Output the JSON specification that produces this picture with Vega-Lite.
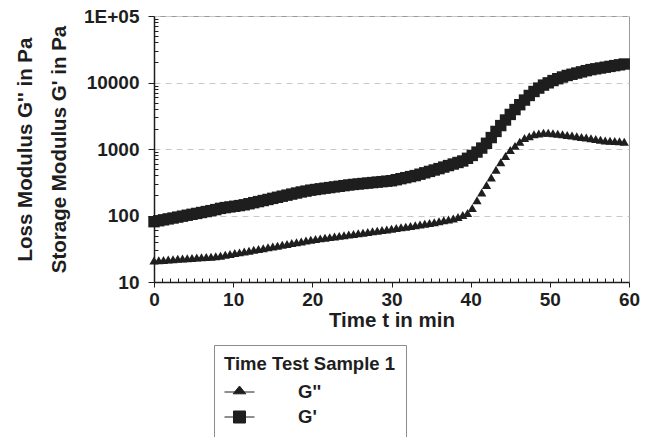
{
  "$schema": "https://vega.github.io/schema/vega-lite/v6.json",
  "width": 475,
  "height": 266,
  "autosize": {"type": "none"},
  "padding": {"left": 154, "top": 16, "right": 33, "bottom": 155},
  "background": "white",
  "config": {
    "font": "Liberation Sans",
    "view": {"stroke": "#9a9a9a", "strokeWidth": 1},
    "legend": {
      "orient": "none", "legendX": 60, "legendY": 329,
      "titleFont": "Liberation Sans", "titleFontSize": 18.5, "titleFontWeight": "bold", "titleColor": "#1e1e1e",
      "titlePadding": 3,
      "labelFont": "Liberation Sans", "labelFontSize": 18.5, "labelFontWeight": "bold", "labelColor": "#1e1e1e",
      "labelOffset": 43,
      "strokeColor": "#8c8c8c", "fillColor": "white", "padding": 10,
      "symbolSize": 900, "rowPadding": -3,
      "symbolStrokeColor": "#1e1e1e", "symbolStrokeWidth": 1
    }
  },
  "data": {
    "values": [
      {"t": 0, "s": "G''", "v": 21.0}, {"t": 0.6, "s": "G''", "v": 21.3}, {"t": 1.2, "s": "G''", "v": 21.5}, {"t": 1.8, "s": "G''", "v": 21.8},
      {"t": 2.4, "s": "G''", "v": 22.0}, {"t": 3.0, "s": "G''", "v": 22.3}, {"t": 3.6, "s": "G''", "v": 22.5}, {"t": 4.2, "s": "G''", "v": 22.8},
      {"t": 4.8, "s": "G''", "v": 23.0}, {"t": 5.4, "s": "G''", "v": 23.3}, {"t": 6.0, "s": "G''", "v": 23.5}, {"t": 6.6, "s": "G''", "v": 23.8},
      {"t": 7.2, "s": "G''", "v": 24.0}, {"t": 7.8, "s": "G''", "v": 24.3}, {"t": 8.4, "s": "G''", "v": 24.9}, {"t": 9.0, "s": "G''", "v": 25.7},
      {"t": 9.6, "s": "G''", "v": 26.4}, {"t": 10.2, "s": "G''", "v": 27.2}, {"t": 10.8, "s": "G''", "v": 27.9}, {"t": 11.4, "s": "G''", "v": 28.7},
      {"t": 12.0, "s": "G''", "v": 29.6}, {"t": 12.6, "s": "G''", "v": 30.5}, {"t": 13.2, "s": "G''", "v": 31.3}, {"t": 13.8, "s": "G''", "v": 32.3},
      {"t": 14.4, "s": "G''", "v": 33.3}, {"t": 15.0, "s": "G''", "v": 34.2}, {"t": 15.6, "s": "G''", "v": 35.2}, {"t": 16.2, "s": "G''", "v": 36.3},
      {"t": 16.8, "s": "G''", "v": 37.3}, {"t": 17.4, "s": "G''", "v": 38.5}, {"t": 18.0, "s": "G''", "v": 39.6}, {"t": 18.6, "s": "G''", "v": 40.7},
      {"t": 19.2, "s": "G''", "v": 42.0}, {"t": 19.8, "s": "G''", "v": 43.2}, {"t": 20.4, "s": "G''", "v": 44.3}, {"t": 21.0, "s": "G''", "v": 45.3},
      {"t": 21.6, "s": "G''", "v": 46.3}, {"t": 22.2, "s": "G''", "v": 47.3}, {"t": 22.8, "s": "G''", "v": 48.4}, {"t": 23.4, "s": "G''", "v": 49.4},
      {"t": 24.0, "s": "G''", "v": 50.6}, {"t": 24.6, "s": "G''", "v": 51.7}, {"t": 25.2, "s": "G''", "v": 52.8}, {"t": 25.8, "s": "G''", "v": 54.1},
      {"t": 26.4, "s": "G''", "v": 55.2}, {"t": 27.0, "s": "G''", "v": 56.5}, {"t": 27.6, "s": "G''", "v": 57.8}, {"t": 28.2, "s": "G''", "v": 59.0},
      {"t": 28.8, "s": "G''", "v": 60.4}, {"t": 29.4, "s": "G''", "v": 61.7}, {"t": 30.0, "s": "G''", "v": 63.1}, {"t": 30.6, "s": "G''", "v": 64.7},
      {"t": 31.2, "s": "G''", "v": 66.4}, {"t": 31.8, "s": "G''", "v": 67.9}, {"t": 32.4, "s": "G''", "v": 69.7}, {"t": 33.0, "s": "G''", "v": 71.4},
      {"t": 33.6, "s": "G''", "v": 73.3}, {"t": 34.2, "s": "G''", "v": 75.2}, {"t": 34.8, "s": "G''", "v": 76.9}, {"t": 35.4, "s": "G''", "v": 79.3},
      {"t": 36.0, "s": "G''", "v": 81.8}, {"t": 36.6, "s": "G''", "v": 84.5}, {"t": 37.2, "s": "G''", "v": 87.3}, {"t": 37.8, "s": "G''", "v": 90.2},
      {"t": 38.4, "s": "G''", "v": 95.3}, {"t": 39.0, "s": "G''", "v": 101.6}, {"t": 39.6, "s": "G''", "v": 108.9}, {"t": 40.2, "s": "G''", "v": 130},
      {"t": 40.8, "s": "G''", "v": 170}, {"t": 41.4, "s": "G''", "v": 222}, {"t": 42.0, "s": "G''", "v": 288}, {"t": 42.6, "s": "G''", "v": 374},
      {"t": 43.2, "s": "G''", "v": 489}, {"t": 43.8, "s": "G''", "v": 631}, {"t": 44.4, "s": "G''", "v": 782}, {"t": 45.0, "s": "G''", "v": 966},
      {"t": 45.6, "s": "G''", "v": 1114}, {"t": 46.2, "s": "G''", "v": 1282}, {"t": 46.8, "s": "G''", "v": 1462}, {"t": 47.4, "s": "G''", "v": 1560},
      {"t": 48.0, "s": "G''", "v": 1667}, {"t": 48.6, "s": "G''", "v": 1714}, {"t": 49.2, "s": "G''", "v": 1758}, {"t": 49.8, "s": "G''", "v": 1754},
      {"t": 50.4, "s": "G''", "v": 1726}, {"t": 51.0, "s": "G''", "v": 1694}, {"t": 51.6, "s": "G''", "v": 1663}, {"t": 52.2, "s": "G''", "v": 1629},
      {"t": 52.8, "s": "G''", "v": 1592}, {"t": 53.4, "s": "G''", "v": 1556}, {"t": 54.0, "s": "G''", "v": 1521}, {"t": 54.6, "s": "G''", "v": 1486},
      {"t": 55.2, "s": "G''", "v": 1449}, {"t": 55.8, "s": "G''", "v": 1413}, {"t": 56.4, "s": "G''", "v": 1377}, {"t": 57.0, "s": "G''", "v": 1343},
      {"t": 57.6, "s": "G''", "v": 1330}, {"t": 58.2, "s": "G''", "v": 1315}, {"t": 58.8, "s": "G''", "v": 1303}, {"t": 59.4, "s": "G''", "v": 1288},

      {"t": 0, "s": "G'", "v": 80.7}, {"t": 0.6, "s": "G'", "v": 83.4}, {"t": 1.2, "s": "G'", "v": 86.1}, {"t": 1.8, "s": "G'", "v": 88.9},
      {"t": 2.4, "s": "G'", "v": 91.6}, {"t": 3.0, "s": "G'", "v": 94.6}, {"t": 3.6, "s": "G'", "v": 97.7}, {"t": 4.2, "s": "G'", "v": 100.9},
      {"t": 4.8, "s": "G'", "v": 104.2}, {"t": 5.4, "s": "G'", "v": 107.4}, {"t": 6.0, "s": "G'", "v": 110.9}, {"t": 6.6, "s": "G'", "v": 114.6},
      {"t": 7.2, "s": "G'", "v": 118.3}, {"t": 7.8, "s": "G'", "v": 122.7}, {"t": 8.4, "s": "G'", "v": 127.9}, {"t": 9.0, "s": "G'", "v": 131.5},
      {"t": 9.6, "s": "G'", "v": 134.6}, {"t": 10.2, "s": "G'", "v": 137.7}, {"t": 10.8, "s": "G'", "v": 140.9}, {"t": 11.4, "s": "G'", "v": 144.9},
      {"t": 12.0, "s": "G'", "v": 150.3}, {"t": 12.6, "s": "G'", "v": 156.0}, {"t": 13.2, "s": "G'", "v": 161.8}, {"t": 13.8, "s": "G'", "v": 167.9},
      {"t": 14.4, "s": "G'", "v": 174.2}, {"t": 15.0, "s": "G'", "v": 181.1}, {"t": 15.6, "s": "G'", "v": 187.9}, {"t": 16.2, "s": "G'", "v": 195.0},
      {"t": 16.8, "s": "G'", "v": 202.3}, {"t": 17.4, "s": "G'", "v": 209.9}, {"t": 18.0, "s": "G'", "v": 217.8}, {"t": 18.6, "s": "G'", "v": 225.9},
      {"t": 19.2, "s": "G'", "v": 232.8}, {"t": 19.8, "s": "G'", "v": 240.4}, {"t": 20.4, "s": "G'", "v": 246.0}, {"t": 21.0, "s": "G'", "v": 251.8},
      {"t": 21.6, "s": "G'", "v": 257.6}, {"t": 22.2, "s": "G'", "v": 263.0}, {"t": 22.8, "s": "G'", "v": 269.2}, {"t": 23.4, "s": "G'", "v": 274.8},
      {"t": 24.0, "s": "G'", "v": 281.2}, {"t": 24.6, "s": "G'", "v": 287.7}, {"t": 25.2, "s": "G'", "v": 293.1}, {"t": 25.8, "s": "G'", "v": 297.8},
      {"t": 26.4, "s": "G'", "v": 302.7}, {"t": 27.0, "s": "G'", "v": 307.6}, {"t": 27.6, "s": "G'", "v": 312.6}, {"t": 28.2, "s": "G'", "v": 317.7},
      {"t": 28.8, "s": "G'", "v": 322.8}, {"t": 29.4, "s": "G'", "v": 328.1}, {"t": 30.0, "s": "G'", "v": 333.4}, {"t": 30.6, "s": "G'", "v": 345.1},
      {"t": 31.2, "s": "G'", "v": 358.1}, {"t": 31.8, "s": "G'", "v": 370.7}, {"t": 32.4, "s": "G'", "v": 384.6}, {"t": 33.0, "s": "G'", "v": 398.1},
      {"t": 33.6, "s": "G'", "v": 417.8}, {"t": 34.2, "s": "G'", "v": 438.5}, {"t": 34.8, "s": "G'", "v": 460.3}, {"t": 35.4, "s": "G'", "v": 483.1},
      {"t": 36.0, "s": "G'", "v": 507.0}, {"t": 36.6, "s": "G'", "v": 534.6}, {"t": 37.2, "s": "G'", "v": 563.6}, {"t": 37.8, "s": "G'", "v": 594.3},
      {"t": 38.4, "s": "G'", "v": 626.6}, {"t": 39.0, "s": "G'", "v": 660.7}, {"t": 39.6, "s": "G'", "v": 724.4}, {"t": 40.2, "s": "G'", "v": 799.8},
      {"t": 40.8, "s": "G'", "v": 899.5}, {"t": 41.4, "s": "G'", "v": 1033}, {"t": 42.0, "s": "G'", "v": 1219}, {"t": 42.6, "s": "G'", "v": 1486},
      {"t": 43.2, "s": "G'", "v": 1837}, {"t": 43.8, "s": "G'", "v": 2249}, {"t": 44.4, "s": "G'", "v": 2729}, {"t": 45.0, "s": "G'", "v": 3311},
      {"t": 45.6, "s": "G'", "v": 3917}, {"t": 46.2, "s": "G'", "v": 4634}, {"t": 46.8, "s": "G'", "v": 5445}, {"t": 47.4, "s": "G'", "v": 6383},
      {"t": 48.0, "s": "G'", "v": 7328}, {"t": 48.6, "s": "G'", "v": 8241}, {"t": 49.2, "s": "G'", "v": 9141}, {"t": 49.8, "s": "G'", "v": 9886},
      {"t": 50.4, "s": "G'", "v": 10690}, {"t": 51.0, "s": "G'", "v": 11400}, {"t": 51.6, "s": "G'", "v": 12100}, {"t": 52.2, "s": "G'", "v": 12760},
      {"t": 52.8, "s": "G'", "v": 13300}, {"t": 53.4, "s": "G'", "v": 13870}, {"t": 54.0, "s": "G'", "v": 14450}, {"t": 54.6, "s": "G'", "v": 15070},
      {"t": 55.2, "s": "G'", "v": 15630}, {"t": 55.8, "s": "G'", "v": 16070}, {"t": 56.4, "s": "G'", "v": 16520}, {"t": 57.0, "s": "G'", "v": 16980},
      {"t": 57.6, "s": "G'", "v": 17460}, {"t": 58.2, "s": "G'", "v": 17950}, {"t": 58.8, "s": "G'", "v": 18450}, {"t": 59.4, "s": "G'", "v": 18970}
    ]
  },
  "layer": [
    {
      "mark": {"type": "point", "filled": true, "opacity": 1},
      "encoding": {
        "x": {
          "field": "t", "type": "quantitative",
          "scale": {"domain": [0, 60], "nice": false, "zero": false},
          "axis": {
            "values": [0, 10, 20, 30, 40, 50, 60],
            "title": "Time t in min",
            "titleFont": "Liberation Sans", "titleFontSize": 20.5, "titleFontWeight": "bold", "titleColor": "#1e1e1e",
            "titlePadding": 1,
            "labelFont": "Liberation Sans", "labelFontSize": 19, "labelFontWeight": "bold", "labelColor": "#1e1e1e",
            "labelPadding": 3, "labelFlush": false, "labelOverlap": false,
            "tickSize": 5, "tickColor": "#1e1e1e", "domainColor": "#1e1e1e", "domainWidth": 1.5,
            "grid": false
          }
        },
        "y": {
          "field": "v", "type": "quantitative",
          "scale": {"type": "log", "domain": [10, 100000], "nice": false},
          "axis": {
            "values": [10, 100, 1000, 10000, 100000],
            "labelExpr": "datum.value >= 100000 ? '1E+05' : format(datum.value, 'd')",
            "title": ["Loss Modulus G'' in Pa", "Storage Modulus G' in Pa"],
            "titleFont": "Liberation Sans", "titleFontSize": 20.5, "titleFontWeight": "bold", "titleColor": "#1e1e1e",
            "titleLineHeight": 34, "titleAngle": 270, "titleAlign": "center", "titleBaseline": "top",
            "titleX": -139, "titleY": 133,
            "labelFont": "Liberation Sans", "labelFontSize": 19, "labelFontWeight": "bold", "labelColor": "#1e1e1e",
            "labelPadding": 9,
            "tickSize": 6, "tickColor": "#1e1e1e", "domainColor": "#1e1e1e", "domainWidth": 1.5,
            "grid": true, "gridColor": "#c8c8c8", "gridDash": [6, 5], "gridWidth": 1
          }
        },
        "color": {
          "field": "s", "type": "nominal",
          "scale": {"domain": ["G''", "G'"], "range": ["#1e1e1e", "#1e1e1e"]},
          "legend": {
            "title": "Time Test Sample 1",
            "symbolType": {"expr": "datum.value === \"G'\" ? 'M-1,0H1M-0.4,-0.4H0.4V0.4H-0.4Z' : 'M-1,0H1M-0.42,0.12L0,-0.4L0.42,0.12Z'"},
            "symbolStrokeColor": "#1e1e1e",
            "symbolStrokeWidth": 1,
            "encode": {
              "symbols": {
                "size": {"value": 900},
                "stroke": {"value": "#1e1e1e"},
                "strokeWidth": {"value": 1},
                "opacity": {"value": 1}
              }
            }
          }
        },
        "shape": {
          "condition": {"test": "datum.s === \"G'\"", "value": "square"},
          "value": "triangle-up"
        },
        "size": {
          "condition": {"test": "datum.s === \"G'\"", "value": 130},
          "value": 85
        }
      }
    },
    {
      "mark": {"type": "point", "opacity": 0},
      "encoding": {
        "x": {
          "field": "t", "type": "quantitative",
          "axis": {
            "orient": "bottom",
            "values": [1, 2, 3, 4, 5, 6, 7, 8, 9, 11, 12, 13, 14, 15, 16, 17, 18, 19, 21, 22, 23, 24, 25, 26, 27, 28, 29, 31, 32, 33, 34, 35, 36, 37, 38, 39, 41, 42, 43, 44, 45, 46, 47, 48, 49, 51, 52, 53, 54, 55, 56, 57, 58, 59],
            "labels": false, "domain": false, "grid": false, "title": null,
            "tickSize": -4, "tickColor": "#1e1e1e"
          }
        },
        "y": {
          "field": "v", "type": "quantitative",
          "axis": {
            "orient": "left",
            "values": [20, 30, 40, 50, 60, 70, 80, 90, 200, 300, 400, 500, 600, 700, 800, 900, 2000, 3000, 4000, 5000, 6000, 7000, 8000, 9000, 20000, 30000, 40000, 50000, 60000, 70000, 80000, 90000],
            "labels": false, "domain": false, "grid": false, "title": null,
            "tickSize": -4, "tickColor": "#1e1e1e"
          }
        }
      }
    }
  ],
  "resolve": {"axis": {"x": "independent", "y": "independent"}}
}
